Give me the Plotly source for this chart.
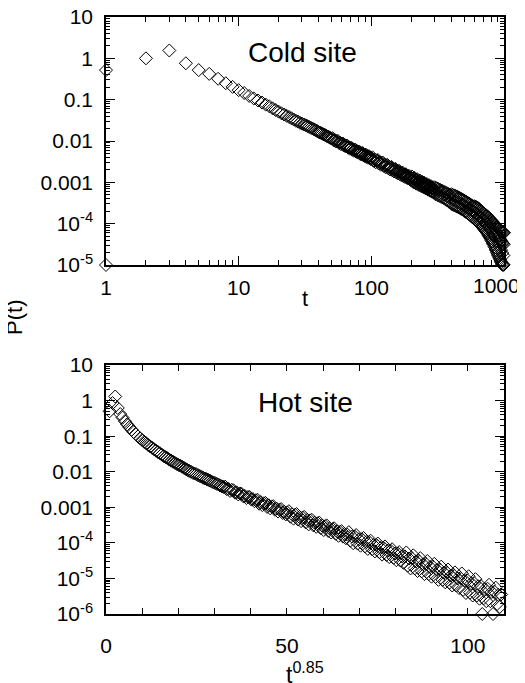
import plotly.graph_objects as go

# ---------------- Cold site: P(t) vs t (log-log) ----------------
cold_t_early = [1, 1, 2, 3, 4, 5, 6, 7, 8, 9, 10, 11, 12, 13, 14, 15, 16, 17, 18, 19, 20,
                21, 22, 23, 24, 25, 26, 27, 28, 29, 30]
cold_p_early = [0.52, 1e-5, 1.0, 1.55, 0.76, 0.52, 0.42, 0.32, 0.25, 0.204, 0.17, 0.145, 0.123,
                0.107, 0.0955, 0.0851, 0.0759, 0.0692, 0.0617, 0.0562, 0.0513, 0.0468, 0.0437,
                0.0407, 0.038, 0.0355, 0.0331, 0.0309, 0.0295, 0.0275, 0.0263]

cold_t_mid = [31, 32, 33, 34, 35, 36, 37, 38, 39, 40,
              41, 42, 43, 44, 45, 46, 47, 48, 49, 50,
              51, 52, 53, 54, 55, 56, 57, 58, 59, 60,
              61, 62, 63, 64, 65, 66, 67, 68, 69, 70,
              71, 72, 73, 74, 75, 76, 77, 78, 79, 80,
              81, 82, 83, 84, 85, 86, 87, 88, 89, 90,
              91, 92, 93, 94, 95, 96, 97, 98, 99, 100]
cold_p_mid = [0.0251, 0.0240, 0.0229, 0.0219, 0.0209, 0.0200, 0.0191, 0.0182, 0.0174, 0.0166,
              0.0160, 0.0154, 0.0149, 0.0143, 0.0138, 0.0133, 0.0128, 0.0124, 0.0119, 0.0115,
              0.0117, 0.0104, 0.0106, 0.00973, 0.0101, 0.0100, 0.00898, 0.00917, 0.00837, 0.00871,
              0.00869, 0.00780, 0.00800, 0.00735, 0.00767, 0.00766, 0.00687, 0.00705, 0.00647, 0.00676,
              0.00678, 0.00611, 0.00630, 0.00581, 0.00610, 0.00611, 0.00551, 0.00568, 0.00524, 0.00550,
              0.00558, 0.00494, 0.00518, 0.00471, 0.00504, 0.00509, 0.00451, 0.00472, 0.00430, 0.00459,
              0.00466, 0.00413, 0.00434, 0.00395, 0.00424, 0.00430, 0.00381, 0.00400, 0.00365, 0.00391]

cold_t_late = [102, 104, 106, 108, 110, 112, 114, 116, 118, 120,
               122, 124, 126, 128, 130, 132, 134, 136, 138, 140,
               142, 144, 146, 148, 150, 152, 154, 156, 158, 160,
               162, 164, 166, 168, 170, 172, 174, 176, 178, 180,
               182, 184, 186, 188, 190, 192, 194, 196, 198, 200,
               202, 204, 206, 208, 210, 212, 214, 216, 218, 220,
               222, 224, 226, 228, 230, 232, 234, 236, 238, 240,
               242, 244, 246, 248, 250, 252, 254, 256, 258, 260,
               262, 264, 266, 268, 270, 272, 274, 276, 278, 280,
               282, 284, 286, 288, 290, 292, 294, 296, 298]
cold_p_late = [4.04e-3, 3.31e-3, 3.56e-3, 3.06e-3, 3.41e-3, 3.47e-3, 2.85e-3, 3.07e-3, 2.65e-3, 2.96e-3,
               3.01e-3, 2.49e-3, 2.68e-3, 2.32e-3, 2.59e-3, 2.65e-3, 2.19e-3, 2.37e-3, 2.05e-3, 2.30e-3,
               2.36e-3, 1.95e-3, 2.11e-3, 1.83e-3, 2.06e-3, 2.11e-3, 1.75e-3, 1.89e-3, 1.64e-3, 1.85e-3,
               1.90e-3, 1.58e-3, 1.71e-3, 1.49e-3, 1.67e-3, 1.72e-3, 1.43e-3, 1.56e-3, 1.36e-3, 1.53e-3,
               1.57e-3, 1.31e-3, 1.42e-3, 1.24e-3, 1.40e-3, 1.44e-3, 1.20e-3, 1.31e-3, 1.14e-3, 1.29e-3,
               1.39e-3, 1.06e-3, 1.22e-3, 1.00e-3, 1.22e-3, 1.28e-3, 9.84e-4, 1.13e-3, 9.29e-4, 1.13e-3,
               1.19e-3, 9.14e-4, 1.05e-3, 8.65e-4, 1.05e-3, 1.11e-3, 8.51e-4, 9.77e-4, 8.05e-4, 9.77e-4,
               1.03e-3, 7.96e-4, 9.14e-4, 7.53e-4, 9.14e-4, 9.68e-4, 7.45e-4, 8.57e-4, 7.06e-4, 8.59e-4,
               9.08e-4, 7.00e-4, 8.04e-4, 6.64e-4, 8.07e-4, 8.55e-4, 6.58e-4, 7.57e-4, 6.25e-4, 7.60e-4,
               8.05e-4, 6.21e-4, 7.14e-4, 5.90e-4, 7.18e-4, 7.60e-4, 5.87e-4, 6.76e-4, 5.58e-4]

cold_t_tail_up = [300, 310, 320, 330, 340, 350, 360, 370, 380, 390,
                  400, 410, 420, 430, 440, 450, 460, 470, 480, 490,
                  500, 510, 520, 530, 540, 550, 560, 570, 580, 590,
                  600, 610, 620, 630, 640, 650, 660, 670, 680, 690,
                  700, 710, 720, 730, 740, 750, 760, 770, 780, 790,
                  800, 810, 820, 830, 840, 850, 860, 870, 880, 890,
                  900, 910, 920, 930, 940, 950, 960, 970, 980, 990, 1000]
cold_p_tail_up = [7.59e-4, 7.24e-4, 6.92e-4, 6.61e-4, 6.31e-4, 6.03e-4, 5.75e-4, 5.50e-4, 5.25e-4, 5.01e-4,
                  5.15e-4, 4.95e-4, 4.85e-4, 4.68e-4, 4.57e-4, 4.37e-4, 4.27e-4, 4.07e-4, 3.89e-4, 3.80e-4,
                  3.63e-4, 3.47e-4, 3.39e-4, 3.24e-4, 3.09e-4, 3.02e-4, 2.88e-4, 2.75e-4, 2.68e-4, 2.60e-4,
                  2.65e-4, 2.57e-4, 2.51e-4, 2.45e-4, 2.34e-4, 2.24e-4, 2.14e-4, 2.04e-4, 1.95e-4, 1.86e-4,
                  1.78e-4, 1.72e-4, 1.66e-4, 1.60e-4, 1.55e-4, 1.50e-4, 1.41e-4, 1.36e-4, 1.29e-4, 1.24e-4,
                  1.20e-4, 1.15e-4, 1.10e-4, 1.05e-4, 1.00e-4, 9.55e-5, 9.12e-5, 8.71e-5, 8.32e-5, 7.94e-5,
                  7.59e-5, 7.41e-5, 7.08e-5, 6.92e-5, 6.76e-5, 6.61e-5, 6.46e-5, 6.31e-5, 6.17e-5, 6.03e-5,
                  6.03e-5]
cold_t_tail_low = [305, 315, 325, 335, 345, 355, 365, 375, 385, 395,
                   405, 415, 425, 435, 445, 455, 465, 475, 485, 495,
                   505, 515, 525, 535, 545, 555, 565, 575, 585, 595,
                   605, 615, 625, 635, 645, 655, 665, 675, 685, 695,
                   705, 715, 725, 735, 745, 755, 765, 775, 785, 795,
                   805, 815, 825, 835, 845, 855, 865, 875, 885, 895,
                   905, 915, 925, 935, 945, 955, 965, 975, 985, 995]
cold_p_tail_low = [5.13e-4, 4.90e-4, 4.68e-4, 4.47e-4, 4.27e-4, 4.07e-4, 3.80e-4, 3.63e-4, 3.39e-4, 3.24e-4,
                   2.95e-4, 2.85e-4, 2.75e-4, 2.66e-4, 2.57e-4, 2.48e-4, 2.40e-4, 2.29e-4, 2.21e-4, 2.14e-4,
                   2.00e-4, 1.93e-4, 1.86e-4, 1.78e-4, 1.68e-4, 1.62e-4, 1.55e-4, 1.45e-4, 1.40e-4, 1.35e-4,
                   1.26e-4, 1.20e-4, 1.16e-4, 1.10e-4, 1.05e-4, 1.00e-4, 9.55e-5, 8.91e-5, 8.51e-5, 8.13e-5,
                   7.59e-5, 7.24e-5, 6.76e-5, 6.46e-5, 6.03e-5, 5.69e-5, 5.25e-5, 4.95e-5, 4.57e-5, 4.32e-5,
                   3.94e-5, 3.67e-5, 3.35e-5, 3.13e-5, 2.85e-5, 2.66e-5, 2.43e-5, 2.24e-5, 2.02e-5, 1.86e-5,
                   1.72e-5, 1.58e-5, 1.46e-5, 1.35e-5, 1.24e-5, 1.15e-5, 1.06e-5, 1.01e-5, 1.01e-5, 1.01e-5]
cold_t_tail_mid = [310, 330, 350, 370, 390, 410, 430, 450, 470, 490,
                   510, 530, 550, 570, 590, 610, 630, 650, 670, 690,
                   710, 730, 750, 770, 790, 810, 830, 850, 870, 890,
                   910, 930, 950, 970, 990]
cold_p_tail_mid = [6.03e-4, 5.50e-4, 5.01e-4, 4.57e-4, 4.17e-4, 3.80e-4, 3.55e-4, 3.31e-4, 3.09e-4, 2.88e-4,
                   2.63e-4, 2.45e-4, 2.29e-4, 2.09e-4, 1.95e-4, 1.78e-4, 1.66e-4, 1.51e-4, 1.38e-4, 1.26e-4,
                   1.15e-4, 1.05e-4, 9.55e-5, 8.51e-5, 7.59e-5, 6.61e-5, 5.75e-5, 5.01e-5, 4.37e-5, 3.72e-5,
                   3.16e-5, 2.69e-5, 2.29e-5, 1.95e-5, 1.70e-5]
cold_t_tail_end = [905, 915, 925, 935, 945, 955, 965, 975, 985, 995]
cold_p_tail_end = [5.01e-5, 4.68e-5, 4.37e-5, 4.12e-5, 3.89e-5, 3.72e-5, 3.55e-5, 3.39e-5, 3.24e-5, 3.16e-5]

cold_t = (cold_t_early + cold_t_mid + cold_t_late
          + cold_t_tail_up + cold_t_tail_low + cold_t_tail_mid + cold_t_tail_end)
cold_p = (cold_p_early + cold_p_mid + cold_p_late
          + cold_p_tail_up + cold_p_tail_low + cold_p_tail_mid + cold_p_tail_end)

# ---------------- Hot site: P(t) vs t^0.85 (semi-log) ----------------
hot_t = [1, 2, 3, 4, 5, 6, 7, 8, 9, 10,
         11, 12, 13, 14, 15, 16, 17, 18, 19, 20,
         21, 22, 23, 24, 25, 26, 27, 28, 29, 30,
         31, 32, 33, 34, 35, 36, 37, 38, 39, 40,
         41, 42, 43, 44, 45, 46, 47, 48, 49, 50,
         51, 52, 53, 54, 55, 56, 57, 58, 59, 60,
         61, 62, 63, 64, 65, 66, 67, 68, 69, 70,
         71, 72, 73, 74, 75, 76, 77, 78, 79, 80,
         81, 82, 83, 84, 85, 86, 87, 88, 89, 90,
         91, 92, 93, 94, 95, 96, 97, 98, 99, 100,
         101, 102, 103, 104, 105, 106, 107, 108, 109, 110,
         111, 112, 113, 114, 115, 116, 117, 118, 119, 120,
         121, 122, 123, 124, 125, 126, 127, 128, 129, 130,
         131, 132, 133, 134, 135, 136, 137, 138, 139, 140,
         141, 142, 143, 144, 145, 146, 147, 148, 149, 150,
         151, 152, 153, 154, 155, 156, 157, 158, 159, 160,
         161, 162, 163, 164, 165, 166, 167, 168, 169, 170,
         171, 172, 173, 174, 175, 176, 177, 178, 179, 180,
         181, 182, 183, 184, 185, 186, 187, 188, 189, 190,
         191, 192, 193, 194, 195, 196, 197, 198, 199, 200,
         201, 202, 203, 204, 205, 206, 207, 208, 209, 210,
         211, 212, 213, 214, 215, 216, 217, 218, 219, 220,
         221, 222, 223, 224, 225, 226, 227, 228, 229, 230,
         231, 232, 233, 234, 235, 236, 237, 238, 239, 240,
         241, 242, 243, 244, 245, 246, 247, 248, 249, 250]
hot_p = [0.50, 0.85, 1.30, 0.62, 0.417, 0.331, 0.263, 0.214, 0.178, 0.151,
         0.129, 0.112, 0.0977, 0.0871, 0.0776, 0.0692, 0.0631, 0.0562, 0.0513, 0.0468,
         0.0427, 0.0389, 0.0355, 0.0331, 0.0302, 0.0275, 0.0257, 0.0240, 0.0219, 0.0204,
         0.0191, 0.0178, 0.0166, 0.0155, 0.0148, 0.0138, 0.0129, 0.0120, 0.0112, 0.0105,
         0.0100, 0.00933, 0.00891, 0.00851, 0.00794, 0.00759, 0.00724, 0.00676, 0.00646, 0.00617,
         0.00589, 0.00562, 0.00525, 0.00501, 0.00479, 0.00457, 0.00437, 0.00407, 0.00389, 0.00372,
         0.00380, 0.00324, 0.00331, 0.00288, 0.00309, 0.00302, 0.00257, 0.00263, 0.00229, 0.00245,
         0.00240, 0.00204, 0.00209, 0.00182, 0.00195, 0.00195, 0.00166, 0.00170, 0.00148, 0.00158,
         0.00162, 0.00126, 0.00140, 0.00115, 0.00130, 0.00132, 0.00102, 0.00114, 0.000933, 0.00106,
         0.00107, 0.000851, 0.000923, 0.000759, 0.000861, 0.000891, 0.000692, 0.000750, 0.000631, 0.000716,
         7.76e-4, 5.43e-4, 6.38e-4, 4.79e-4, 6.17e-4, 6.46e-4, 4.52e-4, 5.31e-4, 4.07e-4, 5.13e-4,
         5.37e-4, 3.76e-4, 4.42e-4, 3.31e-4, 4.27e-4, 4.47e-4, 3.13e-4, 3.67e-4, 2.82e-4, 3.55e-4,
         3.72e-4, 2.60e-4, 3.05e-4, 2.29e-4, 2.95e-4, 3.09e-4, 2.16e-4, 2.54e-4, 1.95e-4, 2.45e-4,
         2.57e-4, 1.80e-4, 2.11e-4, 1.58e-4, 2.04e-4, 2.14e-4, 1.50e-4, 1.76e-4, 1.35e-4, 1.70e-4,
         2.00e-4, 1.15e-4, 1.51e-4, 9.77e-5, 1.51e-4, 1.66e-4, 9.55e-5, 1.26e-4, 8.32e-5, 1.26e-4,
         1.38e-4, 7.94e-5, 1.05e-4, 6.76e-5, 1.05e-4, 1.15e-4, 6.61e-5, 8.71e-5, 5.75e-5, 8.71e-5,
         9.55e-5, 5.50e-5, 7.24e-5, 4.68e-5, 7.24e-5, 7.94e-5, 4.57e-5, 6.03e-5, 3.98e-5, 6.03e-5,
         6.61e-5, 3.80e-5, 5.01e-5, 3.24e-5, 5.01e-5, 5.50e-5, 3.16e-5, 4.17e-5, 2.75e-5, 4.17e-5,
         5.37e-5, 2.29e-5, 3.63e-5, 1.91e-5, 3.72e-5, 4.47e-5, 1.91e-5, 3.02e-5, 1.62e-5, 3.09e-5,
         3.72e-5, 1.58e-5, 2.51e-5, 1.32e-5, 2.57e-5, 3.09e-5, 1.32e-5, 2.09e-5, 1.12e-5, 2.14e-5,
         2.57e-5, 1.10e-5, 1.74e-5, 9.12e-6, 1.78e-5, 2.14e-5, 9.12e-6, 1.45e-5, 7.76e-6, 1.48e-5,
         1.78e-5, 7.59e-6, 1.20e-5, 6.31e-6, 1.23e-5, 1.48e-5, 6.31e-6, 1.00e-5, 5.37e-6, 1.02e-5,
         1.38e-5, 4.79e-6, 8.71e-6, 3.89e-6, 8.91e-6, 1.15e-5, 3.98e-6, 7.24e-6, 3.31e-6, 7.41e-6,
         9.55e-6, 3.31e-6, 6.03e-6, 2.69e-6, 6.17e-6, 1.0e-6, 2.75e-6, 5.01e-6, 2.29e-6, 5.13e-6,
         6.61e-6, 2.29e-6, 4.17e-6, 1.0e-6, 4.27e-6, 5.50e-6, 1.91e-6, 3.47e-6, 1.58e-6, 3.55e-6]
hot_x = [t ** 0.85 for t in hot_t]

# ---------------- tick labels ----------------
top_y_vals = [1e-5, 1e-4, 1e-3, 1e-2, 1e-1, 1, 10]
top_y_text = ['10<sup>-5</sup>', '10<sup>-4</sup>', '0.001', '0.01', '0.1', '1', '10']
bot_y_vals = [1e-6, 1e-5, 1e-4, 1e-3, 1e-2, 1e-1, 1, 10]
bot_y_text = ['10<sup>-6</sup>', '10<sup>-5</sup>', '10<sup>-4</sup>', '0.001', '0.01', '0.1', '1', '10']
top_x_vals = [1, 10, 100, 1000]
top_x_text = ['1', '10', '100', '']   # the "1000" label sits slightly left of its tick: drawn below
bot_x_vals = [0, 50, 100]
bot_x_text = ['0', '50', '100']

FONT = 'Liberation Sans, Arial, Helvetica, sans-serif'

def log_minor(lo, hi):
    return [m * 10 ** k for k in range(lo, hi) for m in range(2, 10)]

marker = dict(symbol='diamond-open', size=10, color='black', line=dict(width=1, color='black'))

fig = go.Figure()
fig.add_trace(go.Scatter(x=cold_t, y=cold_p, mode='markers', marker=marker,
                         cliponaxis=False, showlegend=False, xaxis='x', yaxis='y'))
fig.add_trace(go.Scatter(x=hot_x, y=hot_p, mode='markers', marker=marker,
                         cliponaxis=False, showlegend=False, xaxis='x2', yaxis='y2'))

axis_common = dict(showline=True, linecolor='black', linewidth=1.5, mirror='allticks',
                   ticks='inside', ticklen=9, tickwidth=1, tickcolor='black',
                   showgrid=False, zeroline=False, automargin=False,
                   ticklabeloverflow='allow',
                   tickfont=dict(family=FONT, size=21, color='black'))

# page body adds an 8 px offset; figure is sized so the plot areas land where the reference has them
fig.update_layout(
    width=517, height=675,
    margin=dict(l=98, r=21, t=9, b=69),
    paper_bgcolor='white', plot_bgcolor='white',
    font=dict(family=FONT, color='black'),
    xaxis=dict(axis_common, type='log', range=[0, 3], domain=[0, 1], anchor='y',
               tickmode='array', tickvals=top_x_vals, ticktext=top_x_text,
               ticklabelstandoff=3,
               minor=dict(ticks='inside', ticklen=5, tickwidth=1, tickcolor='black',
                          tickmode='array', tickvals=log_minor(0, 3), showgrid=False)),
    yaxis=dict(axis_common, type='log', range=[-5, 1], domain=[0.5846, 1], anchor='x',
               tickmode='array', tickvals=top_y_vals, ticktext=top_y_text,
               ticklabelstandoff=7,
               minor=dict(ticks='inside', ticklen=4, tickwidth=1, tickcolor='black',
                          tickmode='array', tickvals=log_minor(-5, 1), showgrid=False)),
    xaxis2=dict(axis_common, type='linear', range=[0, 110], domain=[0, 1], anchor='y2',
                tickmode='array', tickvals=bot_x_vals, ticktext=bot_x_text, ticklen=6,
                ticklabelstandoff=12,
                minor=dict(ticks='inside', ticklen=6, tickwidth=1, tickcolor='black',
                           dtick=10, showgrid=False)),
    yaxis2=dict(axis_common, type='log', range=[-6, 1], domain=[0, 0.4171], anchor='x2',
                tickmode='array', tickvals=bot_y_vals, ticktext=bot_y_text,
                ticklabelstandoff=7,
                minor=dict(ticks='inside', ticklen=4, tickwidth=1, tickcolor='black',
                           tickmode='array', tickvals=log_minor(-6, 1), showgrid=False)),
    annotations=[
        dict(text='1000', x=0.982, y=0.551, xref='paper', yref='paper',
             xanchor='center', yanchor='middle',
             showarrow=False, font=dict(family=FONT, size=21, color='black')),
        dict(text='Cold site', x=0.4925, y=0.9397, xref='paper', yref='paper',
             xanchor='center', yanchor='middle',
             showarrow=False, font=dict(family=FONT, size=28, color='black')),
        dict(text='Hot site', x=0.5, y=0.355, xref='paper', yref='paper',
             xanchor='center', yanchor='middle',
             showarrow=False, font=dict(family=FONT, size=28, color='black')),
        dict(text='t', x=0.5, y=0.528, xref='paper', yref='paper',
             xanchor='center', yanchor='middle',
             showarrow=False, font=dict(family=FONT, size=22, color='black')),
        dict(text='t<sup>0.85</sup>', x=0.5, y=-0.098, xref='paper', yref='paper',
             xanchor='center', yanchor='middle',
             showarrow=False, font=dict(family=FONT, size=23, color='black')),
        dict(text='P(t)', x=-0.2286, y=0.496, xref='paper', yref='paper', textangle=-90,
             xanchor='center', yanchor='middle',
             showarrow=False, font=dict(family=FONT, size=22, color='black')),
    ],
)

fig.write_html('out.html')
